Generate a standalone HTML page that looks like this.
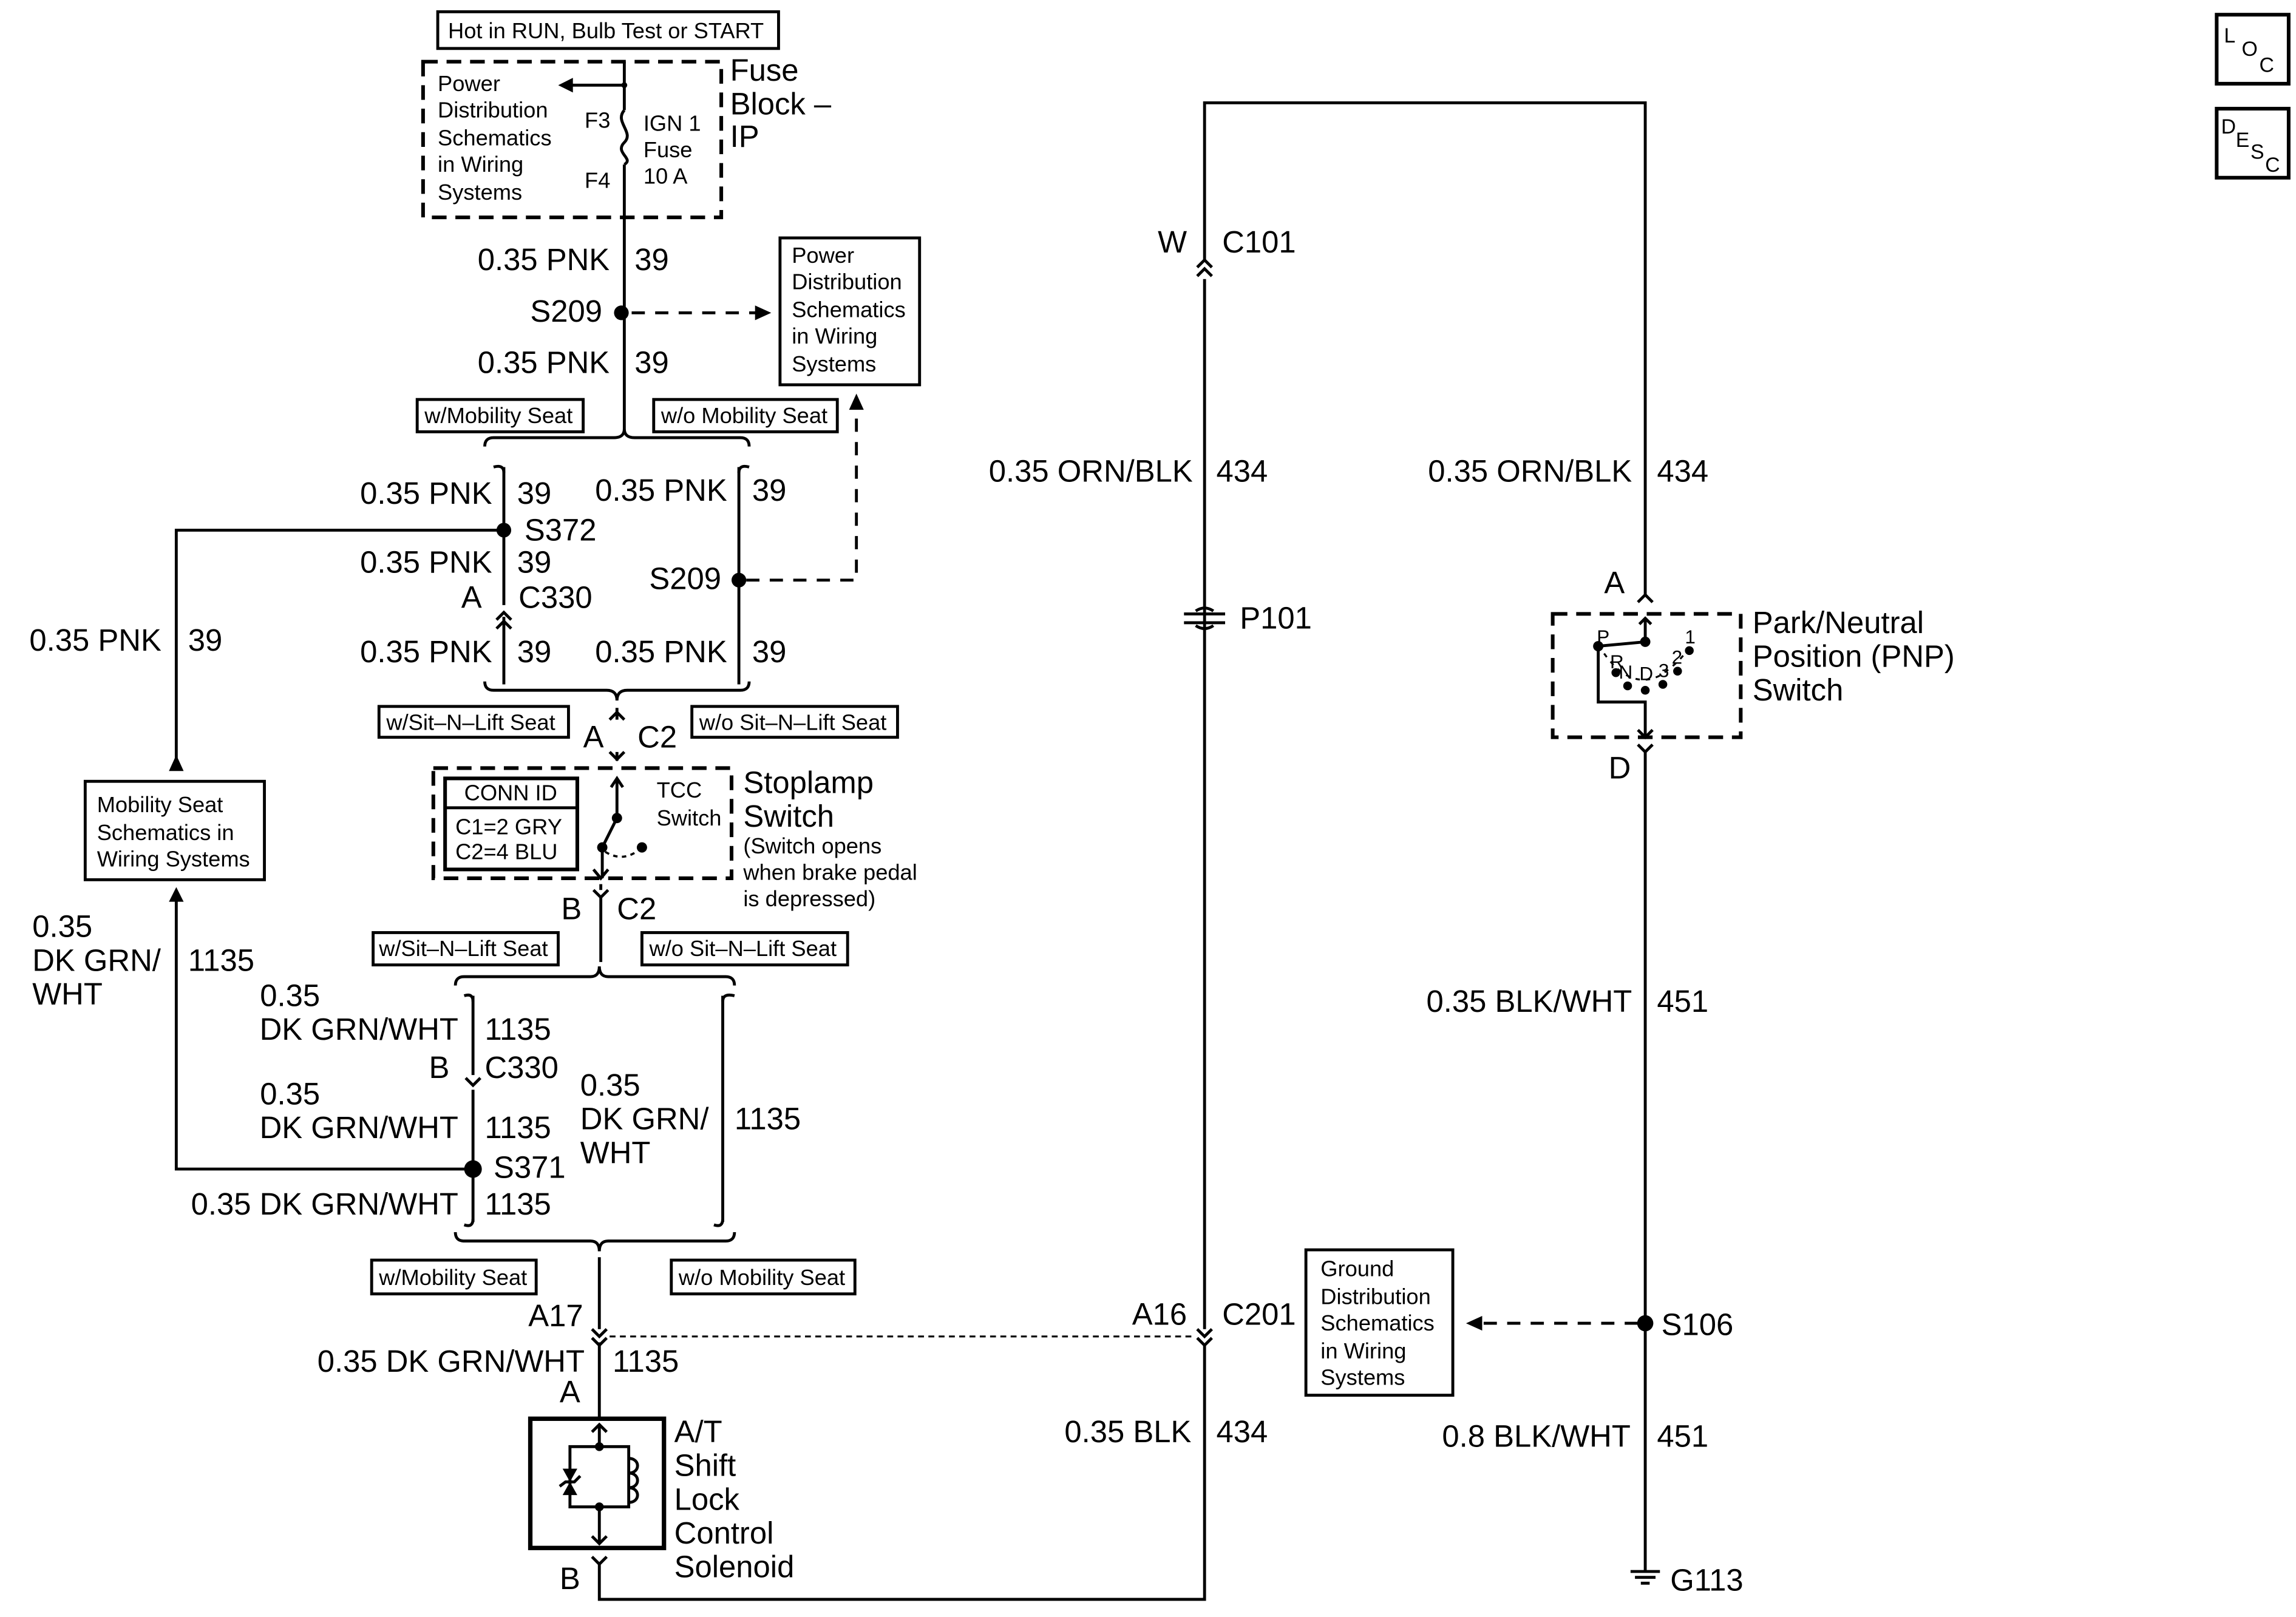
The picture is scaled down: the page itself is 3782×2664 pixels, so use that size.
<!DOCTYPE html>
<html><head><meta charset="utf-8"><style>
html,body{margin:0;padding:0;background:#fff}
svg{display:block}
text{font-family:"Liberation Sans",Arial,sans-serif;fill:#000}
</style></head><body>
<svg width="3782" height="2664" viewBox="0 0 1563 1101" preserveAspectRatio="none" xmlns="http://www.w3.org/2000/svg">
<rect x="0" y="0" width="1563" height="1101" fill="#fff"/>
<g stroke="#000" stroke-width="2" fill="none">
<rect x="298" y="8" width="232" height="25"/>
<rect x="288" y="42" width="203" height="106" stroke-dasharray="10,6" stroke-width="2.5"/>
<path d="M425 42 V75 M425 112 V292"/>
<path d="M425 58 H385"/>
<path d="M425 75 C418 83,432 90,425 97 C418 104,432 108,425 112"/>
<path d="M430 213 H515" stroke-dasharray="9,7"/>
<rect x="531" y="162" width="95" height="100"/>
<rect x="284" y="272" width="113" height="22"/>
<rect x="445" y="272" width="125" height="22"/>
<path d="M330 304 Q330 298 336 298 H418 Q425 298 425 292 Q425 298 432 298 H504 Q510 298 510 304"/>
<path d="M343 318 V412 M343 420 V466"/>
<path d="M336 318 Q343 316 343 322 M503 322 Q503 316 510 318"/>
<path d="M503 318 V466"/>
<path d="M343 361 H120 V520"/>
<path d="M338 422 L343 417 L348 422 M338 428 L343 423 L348 428"/>
<path d="M508 395 H583 V278" stroke-dasharray="9,7"/>
<path d="M330 464 Q330 470 336 470 H413 Q420 470 420 477 Q420 470 427 470 H504 Q510 470 510 464"/>
<path d="M420 482 V490 M420 512 V518"/>
<path d="M415 490 L420 485 L425 490"/>
<path d="M415 512 L420 517 L425 512"/>
<rect x="258" y="481" width="129" height="21"/>
<rect x="471" y="481" width="140" height="21"/>
<rect x="295" y="523" width="203" height="75" stroke-dasharray="10,6" stroke-width="2.5"/>
<rect x="303" y="530" width="90" height="62" stroke-width="2.5"/>
<path d="M303 550 H393"/>
<path d="M420 530 V557 L410 577 V598"/>
<path d="M416 536 L420 530 L424 536 M404 592 L409 598 L414 592"/>
<path d="M412 580 Q425 588 437 577" stroke-dasharray="3,3" stroke-width="1.5"/>
<path d="M409 602 L409 606 M404 606 L409 611 L414 606"/>
<path d="M409 611 V655"/>
<rect x="254" y="635" width="126" height="22"/>
<rect x="437" y="635" width="140" height="22"/>
<path d="M310 671 Q310 665 316 665 H402 Q408 665 408 658 Q408 665 414 665 H494 Q500 665 500 671"/>
<path d="M322 678 V732 M322 742 V832"/>
<path d="M316 678 Q322 676 322 682 M492 682 Q492 676 500 678"/>
<path d="M317 734 L322 739 L327 734"/>
<path d="M492 678 V832 M486 834 Q492 836 492 830 M316 834 Q322 836 322 830"/>
<path d="M322 796 H120 V612"/>
<rect x="58" y="532" width="122" height="67"/>
<path d="M310 839 Q310 845 316 845 H402 Q408 845 408 852 Q408 845 414 845 H494 Q500 845 500 839"/>
<path d="M408 856 V905 M408 914 V966"/>
<path d="M403 905 L408 910 L413 905 M403 911 L408 916 L413 911"/>
<rect x="253" y="858" width="112" height="23"/>
<rect x="457" y="858" width="125" height="23"/>
<path d="M415 910 H814" stroke-dasharray="4,3" stroke-width="1.3"/>
<rect x="361" y="966" width="91" height="88" stroke-width="3"/>
<path d="M408 970 V985 M403 975 L408 970 L413 975"/>
<path d="M408 985 H388 V1026 H428 V985 H408"/>
<path d="M428 993 C436 993,436 1003,428 1003 C436 1003,436 1013,428 1013 C436 1013,436 1023,428 1023"/>
<path d="M408 1026 V1051 M403 1046 L408 1051 L413 1046"/>
<path d="M381 1012 L385 1009 H391 L395 1005"/>
<path d="M403 1060 L408 1065 L413 1060 M408 1065 V1089 H820 V915"/>
<path d="M820 905 V190 M820 178 V70 H1120 V405"/>
<path d="M815 188 L820 183 L825 188 M815 182 L820 177 L825 182"/>
<path d="M815 905 L820 910 L825 905 M815 911 L820 916 L825 911"/>
<path d="M806 418 H834 M806 424 H834"/>
<path d="M814 416 Q820 412 826 416 M814 426 Q820 430 826 426"/>
<path d="M1115 410 L1120 405 L1125 410"/>
<rect x="1057" y="418" width="128" height="84" stroke-dasharray="10,6" stroke-width="2.5"/>
<path d="M1120 421 V437 L1088 440 V478 H1120 V502"/>
<path d="M1116 425 L1120 421 L1124 425 M1115 497 L1120 502 L1125 497"/>
<path d="M1092 445 Q1110 470 1130 460 Q1145 450 1150 440" stroke-dasharray="3,4" stroke-width="1.3"/>
<path d="M1115 507 L1120 512 L1125 507 M1120 512 V1070"/>
<rect x="889" y="851" width="100" height="99"/>
<path d="M1115 901 H1010" stroke-dasharray="9,7"/>
<path d="M1110 1070 H1130 M1113 1074 H1127 M1117 1078 H1123"/>
<rect x="1509" y="10" width="49" height="47" stroke-width="2.5"/>
<rect x="1509" y="74" width="49" height="47" stroke-width="2.5"/>
</g>
<g fill="#000">
<polygon points="380,58 390,53 390,63"/>
<circle cx="425" cy="58" r="2"/>
<circle cx="423" cy="213" r="5"/>
<polygon points="525,213 514,208 514,218"/>
<circle cx="343" cy="361" r="5"/>
<circle cx="503" cy="395" r="5"/>
<polygon points="583,268 578,279 588,279"/>
<polygon points="120,514 115,525 125,525"/>
<polygon points="120,604 115,614 125,614"/>
<circle cx="322" cy="796" r="6"/>
<circle cx="420" cy="557" r="3.5"/><circle cx="410" cy="577" r="3.5"/><circle cx="437" cy="577" r="3.5"/>
<circle cx="408" cy="985" r="3"/><circle cx="408" cy="1026" r="3"/>
<polygon points="383,1000 393,1000 388,1009"/><polygon points="383,1018 393,1018 388,1009"/>
<circle cx="1120" cy="437" r="3.5"/><circle cx="1088" cy="440" r="3.5"/>
<circle cx="1100" cy="458" r="3"/><circle cx="1108" cy="467" r="3"/><circle cx="1120" cy="470" r="3"/><circle cx="1132" cy="466" r="3"/><circle cx="1142" cy="457" r="3"/><circle cx="1150" cy="443" r="3"/>
<circle cx="1120" cy="901" r="5.5"/>
<polygon points="998,901 1009,896 1009,906"/>
</g>
<g font-size="15">
<text x="305" y="26">Hot in RUN, Bulb Test or START</text>
<text x="298" y="62">Power</text><text x="298" y="80">Distribution</text><text x="298" y="99">Schematics</text><text x="298" y="117">in Wiring</text><text x="298" y="136">Systems</text>
<text x="398" y="87">F3</text><text x="398" y="128">F4</text>
<text x="438" y="89">IGN 1</text><text x="438" y="107">Fuse</text><text x="438" y="125">10 A</text>
<text x="539" y="179">Power</text><text x="539" y="197">Distribution</text><text x="539" y="216">Schematics</text><text x="539" y="234">in Wiring</text><text x="539" y="253">Systems</text>
<text x="289" y="288">w/Mobility Seat</text><text x="450" y="288">w/o Mobility Seat</text>
<text x="263" y="497">w/Sit–N–Lift Seat</text><text x="476" y="497">w/o Sit–N–Lift Seat</text>
<text x="316" y="545">CONN ID</text><text x="310" y="568">C1=2 GRY</text><text x="310" y="585">C2=4 BLU</text>
<text x="447" y="543">TCC</text><text x="447" y="562">Switch</text>
<text x="506" y="581">(Switch opens</text><text x="506" y="599">when brake pedal</text><text x="506" y="617">is depressed)</text>
<text x="258" y="651">w/Sit–N–Lift Seat</text><text x="442" y="651">w/o Sit–N–Lift Seat</text>
<text x="66" y="553">Mobility Seat</text><text x="66" y="572">Schematics in</text><text x="66" y="590">Wiring Systems</text>
<text x="258" y="875">w/Mobility Seat</text><text x="462" y="875">w/o Mobility Seat</text>
<text x="899" y="869">Ground</text><text x="899" y="888">Distribution</text><text x="899" y="906">Schematics</text><text x="899" y="925">in Wiring</text><text x="899" y="943">Systems</text>
<text x="1087" y="438" font-size="13">P</text><text x="1096" y="455" font-size="13">R</text><text x="1102" y="462" font-size="13">N</text><text x="1116" y="463" font-size="13">D</text><text x="1129" y="461" font-size="13">3</text><text x="1138" y="452" font-size="13">2</text><text x="1147" y="438" font-size="13">1</text>
<text x="1514" y="29" font-size="14">L</text><text x="1526" y="38" font-size="14">O</text><text x="1538" y="49" font-size="14">C</text>
<text x="1512" y="91" font-size="14">D</text><text x="1522" y="100" font-size="14">E</text><text x="1532" y="108" font-size="14">S</text><text x="1542" y="117" font-size="14">C</text>
</g>
<g font-size="21">
<text x="497" y="55">Fuse</text><text x="497" y="78">Block –</text><text x="497" y="100">IP</text>
<text x="415" y="184" text-anchor="end">0.35 PNK</text><text x="432" y="184">39</text>
<text x="410" y="219" text-anchor="end">S209</text>
<text x="415" y="254" text-anchor="end">0.35 PNK</text><text x="432" y="254">39</text>
<text x="335" y="343" text-anchor="end">0.35 PNK</text><text x="352" y="343">39</text>
<text x="495" y="341" text-anchor="end">0.35 PNK</text><text x="512" y="341">39</text>
<text x="357" y="368">S372</text>
<text x="335" y="390" text-anchor="end">0.35 PNK</text><text x="352" y="390">39</text>
<text x="314" y="414">A</text><text x="353" y="414">C330</text>
<text x="491" y="401" text-anchor="end">S209</text>
<text x="20" y="443">0.35 PNK</text><text x="128" y="443">39</text>
<text x="335" y="451" text-anchor="end">0.35 PNK</text><text x="352" y="451">39</text>
<text x="495" y="451" text-anchor="end">0.35 PNK</text><text x="512" y="451">39</text>
<text x="397" y="509">A</text><text x="434" y="509">C2</text>
<text x="506" y="540">Stoplamp</text><text x="506" y="563">Switch</text>
<text x="382" y="626">B</text><text x="420" y="626">C2</text>
<text x="22" y="638">0.35</text><text x="22" y="661">DK GRN/</text><text x="22" y="684">WHT</text><text x="128" y="661">1135</text>
<text x="177" y="685">0.35</text><text x="312" y="708" text-anchor="end">DK GRN/WHT</text><text x="330" y="708">1135</text>
<text x="292" y="734">B</text><text x="330" y="734">C330</text>
<text x="177" y="752">0.35</text><text x="312" y="775" text-anchor="end">DK GRN/WHT</text><text x="330" y="775">1135</text>
<text x="395" y="746">0.35</text><text x="395" y="769">DK GRN/</text><text x="395" y="792">WHT</text><text x="500" y="769">1135</text>
<text x="336" y="802">S371</text>
<text x="312" y="827" text-anchor="end">0.35 DK GRN/WHT</text><text x="330" y="827">1135</text>
<text x="397" y="903" text-anchor="end">A17</text>
<text x="398" y="934" text-anchor="end">0.35 DK GRN/WHT</text><text x="417" y="934">1135</text>
<text x="381" y="955">A</text>
<text x="459" y="982">A/T</text><text x="459" y="1005">Shift</text><text x="459" y="1028">Lock</text><text x="459" y="1051">Control</text><text x="459" y="1074">Solenoid</text>
<text x="381" y="1082">B</text>
<text x="808" y="172" text-anchor="end">W</text><text x="832" y="172">C101</text>
<text x="812" y="328" text-anchor="end">0.35 ORN/BLK</text><text x="828" y="328">434</text>
<text x="844" y="428">P101</text>
<text x="808" y="902" text-anchor="end">A16</text><text x="832" y="902">C201</text>
<text x="811" y="982" text-anchor="end">0.35 BLK</text><text x="828" y="982">434</text>
<text x="1111" y="328" text-anchor="end">0.35 ORN/BLK</text><text x="1128" y="328">434</text>
<text x="1092" y="404">A</text>
<text x="1193" y="431">Park/Neutral</text><text x="1193" y="454">Position (PNP)</text><text x="1193" y="477">Switch</text>
<text x="1095" y="530">D</text>
<text x="1111" y="689" text-anchor="end">0.35 BLK/WHT</text><text x="1128" y="689">451</text>
<text x="1131" y="909">S106</text>
<text x="1110" y="985" text-anchor="end">0.8 BLK/WHT</text><text x="1128" y="985">451</text>
<text x="1137" y="1083">G113</text>
</g>
</svg>
</body></html>
